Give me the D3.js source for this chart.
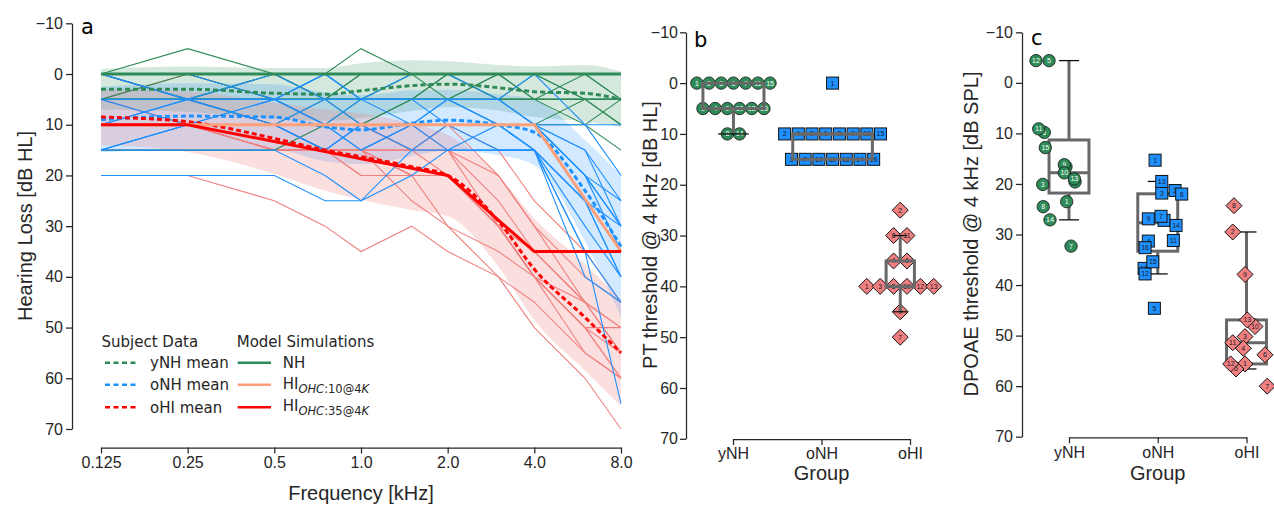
<!DOCTYPE html>
<html><head><meta charset="utf-8">
<script src="https://cdn.jsdelivr.net/npm/d3@7"></script>
<style>body{margin:0;background:#fff}</style>
</head><body>
<svg id="chart" width="1274" height="506"></svg>
<script>
// ---------------- DATA ----------------
const freqs = [0.125, 0.25, 0.5, 0.75, 1, 1.5, 2, 3, 4, 6, 8];
const freqTicks = [0.125, 0.25, 0.5, 1, 2, 4, 8];
const freqTickLabels = ["0.125", "0.25", "0.5", "1.0", "2.0", "4.0", "8.0"];
const dbTicks = [-10, 0, 10, 20, 30, 40, 50, 60, 70];
const groups = ["yNH", "oNH", "oHI"];

// individual audiograms (dB HL) per subject, subject id = index+1
const audYNH = [
  [0,0,0,0,0,0,0,0,0,5,5],
  [5,5,5,5,0,0,0,5,0,0,5],
  [5,0,5,10,5,5,0,0,5,5,10],
  [0,5,10,5,5,0,0,5,5,0,0],
  [0,-5,0,5,0,0,0,0,0,0,0],
  [0,0,0,5,5,0,0,0,0,5,10],
  [5,5,5,0,-5,0,0,0,0,0,5],
  [15,15,15,10,10,5,5,10,10,10,15],
  [5,5,5,5,5,5,5,5,5,5,5],
  [0,0,5,5,10,5,5,0,5,10,5],
  [0,0,0,0,0,0,0,0,0,0,0],
  [5,5,0,5,5,5,5,5,5,5,5],
  [0,5,5,5,5,5,0,5,5,5,5],
  [5,5,0,0,5,5,5,5,10,5,5],
  [0,0,0,0,0,0,5,0,0,0,0]
];
const audONH = [
  [0,5,0,5,5,0,0,5,0,10,20],
  [10,10,10,10,15,10,10,10,10,20,30],
  [15,10,10,15,10,10,10,10,15,25,40],
  [5,5,5,10,5,5,5,10,10,15,25],
  [10,5,5,5,10,10,5,5,10,20,35],
  [0,5,10,15,10,10,10,10,10,25,35],
  [15,15,15,20,25,20,15,15,15,35,45],
  [10,10,10,10,10,10,10,10,10,20,30],
  [5,5,10,10,10,10,5,10,10,15,30],
  [10,10,5,10,15,10,15,10,15,30,40],
  [15,10,10,15,10,15,10,10,15,25,40],
  [20,20,20,25,25,15,15,15,15,35,65],
  [5,10,5,0,5,5,10,10,10,20,25],
  [15,10,10,5,5,10,10,10,15,25,30],
  [0,0,5,0,5,5,5,5,10,10,10],
  [10,5,5,10,10,10,10,15,15,40,45]
];
const audOHI = [
  [10,10,15,15,20,20,20,30,40,50,60],
  [0,5,5,10,10,15,10,15,25,35,45],
  [5,10,15,15,20,20,20,30,40,50,55],
  [10,10,10,15,15,15,15,30,35,45,50],
  [15,15,15,15,15,20,20,30,40,45,55],
  [5,0,5,10,10,15,15,25,35,45,50],
  [20,20,25,30,35,30,35,40,50,60,70],
  [5,5,10,10,10,15,10,20,30,40,45],
  [10,10,15,15,15,20,30,40,45,55,60],
  [10,10,10,15,15,20,20,30,40,50,60],
  [0,5,10,15,15,10,15,20,30,45,55],
  [10,10,15,15,15,15,20,30,40,50,50],
  [10,10,15,15,15,25,30,35,40,55,60]
];

// group means and standard deviations (dB HL)
const meanYNH = [3, 3, 3.8, 4, 3.3, 2.3, 2, 2.7, 3.5, 3.8, 5];
const sdYNH   = [4, 4.5, 5, 5.2, 5.4, 5, 4.5, 4.5, 5, 5.6, 5.5];
const meanONH = [9, 8.3, 8.5, 10.4, 11, 9.7, 9.1, 10, 11.5, 23, 34];
const sdONH   = [6.5, 6.5, 6.5, 6.8, 6.8, 6.5, 6, 6, 6.5, 10, 14];
const meanOHI = [8.5, 9.4, 12.7, 15, 16.3, 18.3, 20, 29, 38.5, 48, 55];
const sdOHI   = [5.5, 6, 7, 8, 8.5, 8.5, 8, 9, 10, 10.5, 10.5];

// model simulations (dB HL)
const modelNH   = [0,0,0,0,0,0,0,0,0,0,0];
const modelHI10 = [10,10,10,10,10,10,10,10,10,24.6,35];
const modelHI35 = [10,10,13.3,15.3,16.7,18.6,20,28.8,35,35,35];

// DPOAE thresholds @ 4 kHz (dB SPL), subject id = index+1
const dpYNH = [23.5,16.6,20.1,19.6,-4.4,9.8,32.3,24.5,16.2,17.8,9.1,-4.4,19.0,27.1,12.8];
const dpONH = [15.3,21.3,21.8,31.3,44.6,27.2,26.4,22.0,26.9,36.7,31.2,37.8,19.5,28.2,35.4,32.6];
const dpOHI = [55.6,29.5,50.2,52.5,56.6,53.8,60.0,24.3,37.9,48.2,51.4,55.6,46.9];
// strip-plot jitter (in group units)
const jitYNH = [-0.026,-0.034,-0.296,0.068,-0.225,-0.278,0.023,-0.29,-0.053,-0.053,-0.341,-0.372,0.06,-0.214,-0.267];
const jitONH = [-0.03,0.195,0.045,-0.106,-0.038,0.071,0.037,0.27,-0.106,-0.154,0.176,-0.143,0.045,0.206,-0.056,-0.143];
const jitOHI = [-0.017,-0.155,-0.017,-0.036,-0.118,0.208,0.234,-0.141,-0.017,0.096,-0.155,-0.178,0.009];

// ---------------- STYLE ----------------
const C = {yNH:"#2e8b57", oNH:"#1e90ff", oHI:"#f08080"};
const AXC = "#262626";
const AXF = "'Liberation Sans', Arial, Helvetica, sans-serif";
const LGF = "'DejaVu Sans', Verdana, sans-serif";
const BOXC = "#686868";

const svg = d3.select("#chart");
svg.append("rect").attr("width",1274).attr("height",506).attr("fill","#fff");

function styleAxis(g){
  g.selectAll("path.domain").attr("stroke",AXC).attr("stroke-width",1.25);
  g.selectAll(".tick line").attr("stroke",AXC).attr("stroke-width",1.25);
  g.selectAll(".tick text").attr("fill",AXC).style("font-size","16px").style("font-family",AXF);
}
function fmtDb(d){ return d < 0 ? "\u2212" + Math.abs(d) : String(d); }

// ---------------- PANEL A ----------------
const xA = d3.scaleLog().base(2).domain([0.125, 8]).range([101, 621]);
const yA = d3.scaleLinear().domain([-10, 70]).range([23.3, 429]);
const gA = svg.append("g");

function band(mean, sd, color, op){
  const area = d3.area()
    .x((d,i)=>xA(freqs[i]))
    .y0((d,i)=>yA(mean[i]-sd[i]))
    .y1((d,i)=>yA(mean[i]+sd[i]))
    .curve(d3.curveMonotoneX);
  gA.append("path").datum(mean).attr("d",area).attr("fill",color).attr("fill-opacity",op).attr("stroke","none");
}
band(meanYNH, sdYNH, C.yNH, 0.2);
band(meanONH, sdONH, C.oNH, 0.2);
band(meanOHI, sdOHI, C.oHI, 0.25);

const lineA = d3.line().x((d,i)=>xA(freqs[i])).y(d=>yA(d));
[[audOHI,C.oHI],[audYNH,C.yNH],[audONH,C.oNH]].forEach(([set,col])=>{
  gA.append("g").selectAll("path").data(set).join("path")
    .attr("d",lineA).attr("fill","none").attr("stroke",col).attr("stroke-width",1.1);
});

const curveLine = d3.line().x((d,i)=>xA(freqs[i])).y(d=>yA(d)).curve(d3.curveMonotoneX);
[[meanYNH,C.yNH],[meanONH,C.oNH],[meanOHI,"#ff0000"]].forEach(([m,col])=>{
  gA.append("path").datum(m).attr("d",curveLine).attr("fill","none")
    .attr("stroke",col).attr("stroke-width",3).attr("stroke-dasharray","5,3");
});
[[modelNH,C.yNH],[modelHI10,"#ffa07a"],[modelHI35,"#ff0000"]].forEach(([m,col])=>{
  gA.append("path").datum(m).attr("d",lineA).attr("fill","none")
    .attr("stroke",col).attr("stroke-width",3);
});

const axAy = gA.append("g").attr("transform","translate(72,0)")
  .call(d3.axisLeft(yA).tickValues(dbTicks).tickFormat(fmtDb).tickSize(6).tickPadding(3).tickSizeOuter(0));
styleAxis(axAy);
const axAx = gA.append("g").attr("transform","translate(0,447.5)")
  .call(d3.axisBottom(xA).tickValues(freqTicks).tickFormat((d,i)=>freqTickLabels[i]).tickSize(6).tickPadding(3).tickSizeOuter(0));
styleAxis(axAx);

gA.append("text").attr("transform","translate(32,226) rotate(-90)").attr("text-anchor","middle")
  .attr("fill",AXC).style("font-family",AXF).style("font-size","20px").text("Hearing Loss [dB HL]");
gA.append("text").attr("x",361).attr("y",500).attr("text-anchor","middle")
  .attr("fill",AXC).style("font-family",AXF).style("font-size","20px").text("Frequency [kHz]");
svg.append("text").attr("x",81).attr("y",34).attr("fill","#000").style("font-family",LGF).style("font-size","21px").text("a");

// legend
const lg = svg.append("g").style("font-family",LGF).style("font-size","15px").attr("fill",AXC);
lg.append("text").attr("x",101.5).attr("y",347).text("Subject Data");
lg.append("text").attr("x",236.7).attr("y",347).text("Model Simulations");
const rowsY = [362.7, 384.8, 407.3];
[["yNH mean",C.yNH],["oNH mean",C.oNH],["oHI mean","#ff0000"]].forEach(([t,c],i)=>{
  lg.append("line").attr("x1",105).attr("x2",138).attr("y1",rowsY[i]).attr("y2",rowsY[i])
    .attr("stroke",c).attr("stroke-width",2.5).attr("stroke-dasharray","5,3.5");
  lg.append("text").attr("x",150).attr("y",rowsY[i]+5.5).text(t);
});
[C.yNH,"#ffa07a","#ff0000"].forEach((c,i)=>{
  lg.append("line").attr("x1",237.7).attr("x2",271).attr("y1",rowsY[i]).attr("y2",rowsY[i])
    .attr("stroke",c).attr("stroke-width",2.5);
});
lg.append("text").attr("x",282.7).attr("y",rowsY[0]+5.5).text("NH");
["10","35"].forEach((v,k)=>{
  const t = lg.append("text").attr("x",282.7).attr("y",rowsY[k+1]+4);
  t.append("tspan").text("HI");
  t.append("tspan").attr("dy",4).style("font-size","11.5px").style("font-style","italic").text("OHC");
  t.append("tspan").style("font-size","11.5px").text(":"+v+"@4");
  t.append("tspan").style("font-size","11.5px").style("font-style","italic").text("K");
});

// ---------------- markers ----------------
function marker(g, grp, x, y, id){
  const m = g.append("g").attr("transform",`translate(${x},${y})`);
  if (grp === "yNH") {
    m.append("circle").attr("r",6.2).attr("fill",C.yNH).attr("stroke","#111").attr("stroke-width",0.8);
  } else if (grp === "oNH") {
    m.append("rect").attr("x",-6).attr("y",-6).attr("width",12).attr("height",12)
      .attr("fill",C.oNH).attr("stroke","#111").attr("stroke-width",1);
  } else {
    m.append("path").attr("d","M0,-8L8,0L0,8L-8,0Z").attr("fill",C.oHI).attr("stroke","#111").attr("stroke-width",1);
  }
  m.append("text").attr("text-anchor","middle").attr("dy","0.35em")
    .attr("fill", grp==="yNH" ? "#fff" : "#1a1a2a")
    .style("font-family",AXF).style("font-size","7px").text(id);
}

function boxStats(vals){
  const s = vals.slice().sort(d3.ascending);
  const q1 = d3.quantileSorted(s,0.25), med = d3.quantileSorted(s,0.5), q3 = d3.quantileSorted(s,0.75);
  const p5 = d3.quantileSorted(s,0.05), p95 = d3.quantileSorted(s,0.95);
  const lo = d3.min(s.filter(v=>v>=p5)), hi = d3.max(s.filter(v=>v<=p95));
  return {q1,med,q3,lo,hi};
}
function drawBox(g, cx, w, st, y){
  const x0 = cx - w/2, x1 = cx + w/2;
  g.append("line").attr("x1",cx).attr("x2",cx).attr("y1",y(st.q1)).attr("y2",y(st.lo)).attr("stroke",BOXC).attr("stroke-width",3);
  g.append("line").attr("x1",cx).attr("x2",cx).attr("y1",y(st.q3)).attr("y2",y(st.hi)).attr("stroke",BOXC).attr("stroke-width",3);
  [st.lo, st.hi].forEach(v=>{
    g.append("line").attr("x1",cx-w/4).attr("x2",cx+w/4).attr("y1",y(v)).attr("y2",y(v)).attr("stroke","#111").attr("stroke-width",1.3);
  });
  g.append("rect").attr("x",x0).attr("y",y(st.q1)).attr("width",w).attr("height",y(st.q3)-y(st.q1))
    .attr("fill","none").attr("stroke",BOXC).attr("stroke-width",3);
  g.append("line").attr("x1",x0).attr("x2",x1).attr("y1",y(st.med)).attr("y2",y(st.med)).attr("stroke",BOXC).attr("stroke-width",3);
}

// ---------------- PANEL B ----------------
const xB = d3.scaleLinear().domain([0,2]).range([733, 910]);
const yB = d3.scaleLinear().domain([-10,70]).range([32.3, 438.8]);
const gB = svg.append("g");
const ptSets = [audYNH, audONH, audOHI].map(set => set.map(r => r[freqs.indexOf(4)]));
const posB = [0.005, 1.125, 1.89];       // plotted group centres
const boxWB = [0.69, 0.9, 0.32];         // box widths (group units)
const spB = [12.2, 13.7, 13.4];          // swarm spacing (px)
const unitB = xB(1) - xB(0);
ptSets.forEach((vals,gi)=>{
  const cx = xB(posB[gi]);
  const rows = d3.group(vals.map((v,i)=>({v,id:i+1})), d=>d.v);
  for (const [v, arr] of rows) {
    arr.sort((a,b)=>a.id-b.id);
    arr.forEach((d,j)=> marker(gB, groups[gi], cx + (j-(arr.length-1)/2)*spB[gi], yB(v), d.id));
  }
});
ptSets.forEach((vals,gi)=> drawBox(gB, xB(posB[gi]), boxWB[gi]*unitB, boxStats(vals), yB));

const axBy = gB.append("g").attr("transform","translate(686,0)")
  .call(d3.axisLeft(yB).tickValues(dbTicks).tickFormat(fmtDb).tickSize(6).tickPadding(2).tickSizeOuter(0));
styleAxis(axBy);
const axBx = gB.append("g").attr("transform","translate(0,439)")
  .call(d3.axisBottom(xB).tickValues([0,1,2]).tickFormat(i=>groups[i]).tickSize(6).tickPadding(3).tickSizeOuter(0));
styleAxis(axBx);
gB.append("text").attr("transform","translate(657,235) rotate(-90)").attr("text-anchor","middle")
  .attr("fill",AXC).style("font-family",AXF).style("font-size","20px").text("PT threshold @ 4 kHz [dB HL]");
gB.append("text").attr("x",821.5).attr("y",480).attr("text-anchor","middle")
  .attr("fill",AXC).style("font-family",AXF).style("font-size","20px").text("Group");
svg.append("text").attr("x",694).attr("y",47).attr("fill","#000").style("font-family",LGF).style("font-size","21px").text("b");

// ---------------- PANEL C ----------------
const xC = d3.scaleLinear().domain([0,2]).range([1069, 1246.5]);
const yC = d3.scaleLinear().domain([-10,70]).range([32.3, 436.7]);
const gC = svg.append("g");
const unitC = xC(1) - xC(0);
const dpSets = [dpYNH, dpONH, dpOHI];
const jitSets = [jitYNH, jitONH, jitOHI];
dpSets.forEach((vals,gi)=> drawBox(gC, xC(gi), 0.45*unitC, boxStats(vals), yC));
dpSets.forEach((vals,gi)=>{
  vals.forEach((v,i)=> marker(gC, groups[gi], xC(gi + jitSets[gi][i]), yC(v), i+1));
});
const axCy = gC.append("g").attr("transform","translate(1022,0)")
  .call(d3.axisLeft(yC).tickValues(dbTicks).tickFormat(fmtDb).tickSize(6).tickPadding(3).tickSizeOuter(0));
styleAxis(axCy);
const axCx = gC.append("g").attr("transform","translate(0,437.3)")
  .call(d3.axisBottom(xC).tickValues([0,1,2]).tickFormat(i=>groups[i]).tickSize(6).tickPadding(3).tickSizeOuter(0));
styleAxis(axCx);
gC.append("text").attr("transform","translate(978,234) rotate(-90)").attr("text-anchor","middle")
  .attr("fill",AXC).style("font-family",AXF).style("font-size","20px").text("DPOAE threshold @ 4 kHz [dB SPL]");
gC.append("text").attr("x",1157.7).attr("y",480).attr("text-anchor","middle")
  .attr("fill",AXC).style("font-family",AXF).style("font-size","20px").text("Group");
svg.append("text").attr("x",1031).attr("y",45).attr("fill","#000").style("font-family",LGF).style("font-size","21px").text("c");
</script>
</body></html>
